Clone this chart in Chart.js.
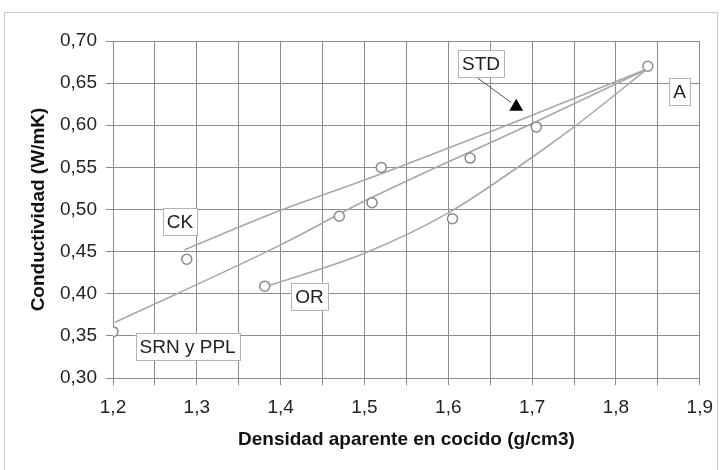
<!DOCTYPE html>
<html>
<head>
<meta charset="utf-8">
<script src="https://cdn.jsdelivr.net/npm/chart.js@4"></script>
<style>
  html, body { margin: 0; padding: 0; background: #fff; }
  #wrap { width: 724px; height: 470px; }
</style>
</head>
<body>
<div id="wrap"><canvas id="chart" width="724" height="470"></canvas></div>
<script>
// measured points
const ckX = [1.288, 1.52];
const ckY = [0.441, 0.550];
const srnX = [1.2, 1.47, 1.509, 1.626, 1.705];
const srnY = [0.355, 0.492, 0.508, 0.561, 0.598];
const orX = [1.381, 1.605];
const orY = [0.409, 0.489];
const aX = [1.838];
const aY = [0.670];
const stdX = [1.681];
const stdY = [0.622];

// trend lines
const ckTrendX = [1.285, 1.4, 1.5, 1.7, 1.84];
const ckTrendY = [0.452, 0.499, 0.535, 0.612, 0.668];
const srnTrendX = [1.202, 1.4, 1.5, 1.7, 1.84];
const srnTrendY = [0.366, 0.458, 0.510, 0.602, 0.668];
const orTrendX = [1.387, 1.5, 1.6, 1.7, 1.75, 1.84];
const orTrendY = [0.410, 0.448, 0.496, 0.562, 0.598, 0.669];

// STD leader line
const stdLeaderX = [1.635, 1.675];
const stdLeaderY = [0.656, 0.627];

// text boxes
const labelTexts = ['STD', 'A', 'CK', 'OR', 'SRN y PPL'];
const labelX = [1.639, 1.876, 1.280, 1.4345, 1.289];
const labelY = [0.673, 0.640, 0.486, 0.397, 0.337];

const xMin = 1.2, xMax = 1.9, xStep = 0.05;
const yMin = 0.30, yMax = 0.70, yStep = 0.05;

const pts = (xs, ys) => xs.map((x, i) => ({ x: x, y: ys[i] }));

const gridColor = '#8c8c8c';
const lineColor = '#a8a8a8';

const frame = {
    id: 'frame',
    beforeDraw(chart) {
        const c = chart.ctx;
        c.save();
        c.fillStyle = '#fff';
        c.fillRect(0, 0, chart.width, chart.height);
        c.strokeStyle = '#c8c8c8';
        c.lineWidth = 1;
        c.strokeRect(4.5, 12.5, 713, 470);
        c.restore();
    }
};

const boxes = {
    id: 'boxes',
    afterDatasetsDraw(chart) {
        const c = chart.ctx;
        const xs = chart.scales.x, ys = chart.scales.y;
        c.save();
        c.font = '19px "Liberation Sans", Arial, sans-serif';
        c.textAlign = 'center';
        c.textBaseline = 'middle';
        labelTexts.forEach((t, i) => {
            const px = xs.getPixelForValue(labelX[i]);
            const py = ys.getPixelForValue(labelY[i]);
            const w = c.measureText(t).width + 8;
            const h = 27;
            c.fillStyle = '#fff';
            c.fillRect(px - w / 2, py - h / 2, w, h);
            c.strokeStyle = '#b4b4b4';
            c.lineWidth = 1;
            c.strokeRect(Math.round(px - w / 2) + 0.5, Math.round(py - h / 2) + 0.5, Math.round(w), h);
            c.fillStyle = '#222';
            c.fillText(t, px, py + 1);
        });
        c.restore();
    }
};

const markerStyle = {
    showLine: false,
    pointStyle: 'circle',
    pointRadius: 5,
    pointBorderWidth: 1.5,
    pointBorderColor: '#8a8a8a',
    pointBackgroundColor: '#fff'
};

const trendStyle = {
    showLine: true,
    borderColor: lineColor,
    borderWidth: 1.6,
    pointRadius: 0,
    tension: 0.3,
    cubicInterpolationMode: 'monotone'
};

new Chart(document.getElementById('chart'), {
    type: 'scatter',
    data: {
        datasets: [
            {
                label: 'STD',
                data: pts(stdX, stdY),
                showLine: false,
                pointStyle: 'triangle',
                pointRadius: 8,
                pointBorderWidth: 0,
                pointBackgroundColor: '#000',
                pointBorderColor: '#000'
            },
            Object.assign({ label: 'A', data: pts(aX, aY) }, markerStyle),
            Object.assign({ label: 'CK', data: pts(ckX, ckY) }, markerStyle),
            Object.assign({ label: 'SRN y PPL', data: pts(srnX, srnY) }, markerStyle),
            Object.assign({ label: 'OR', data: pts(orX, orY) }, markerStyle),
            Object.assign({ label: 'CK trend', data: pts(ckTrendX, ckTrendY) }, trendStyle),
            Object.assign({ label: 'SRN trend', data: pts(srnTrendX, srnTrendY) }, trendStyle),
            Object.assign({ label: 'OR trend', data: pts(orTrendX, orTrendY) }, trendStyle),
            {
                label: 'STD leader',
                data: pts(stdLeaderX, stdLeaderY),
                showLine: true,
                borderColor: '#555',
                borderWidth: 1,
                pointRadius: 0
            }
        ]
    },
    options: {
        responsive: false,
        animation: false,
        events: [],
        layout: { padding: { left: 23, right: 23, top: 41, bottom: 15 } },
        plugins: {
            legend: { display: false },
            tooltip: { enabled: false }
        },
        scales: {
            x: {
                type: 'linear',
                min: xMin,
                max: xMax,
                afterFit: (s) => { s.height = 77; },
                grid: { color: gridColor, lineWidth: 1, tickLength: 7, tickColor: gridColor },
                border: { display: true, color: gridColor },
                ticks: {
                    stepSize: xStep,
                    autoSkip: false,
                    maxTicksLimit: 30,
                    maxRotation: 0,
                    padding: 11,
                    color: '#222',
                    font: { family: '"Liberation Sans", Arial, sans-serif', size: 19 },
                    callback: (v) => (Math.round(v * 100) % 10 === 0 ? v.toFixed(1).replace('.', ',') : '')
                },
                title: {
                    display: true,
                    text: 'Densidad aparente en cocido (g/cm3)',
                    color: '#111',
                    font: { family: '"Liberation Sans", Arial, sans-serif', size: 19, weight: 'bold' }
                }
            },
            y: {
                type: 'linear',
                min: yMin,
                max: yMax,
                afterFit: (s) => { s.width = 90; },
                grid: { color: gridColor, lineWidth: 1, tickLength: 7, tickColor: gridColor },
                border: { display: true, color: gridColor },
                ticks: {
                    stepSize: yStep,
                    padding: 9,
                    color: '#222',
                    font: { family: '"Liberation Sans", Arial, sans-serif', size: 19 },
                    callback: (v) => v.toFixed(2).replace('.', ',')
                },
                title: {
                    display: true,
                    text: 'Conductividad (W/mK)',
                    color: '#111',
                    font: { family: '"Liberation Sans", Arial, sans-serif', size: 19, weight: 'bold' }
                }
            }
        }
    },
    plugins: [frame, boxes]
});
</script>
</body>
</html>
